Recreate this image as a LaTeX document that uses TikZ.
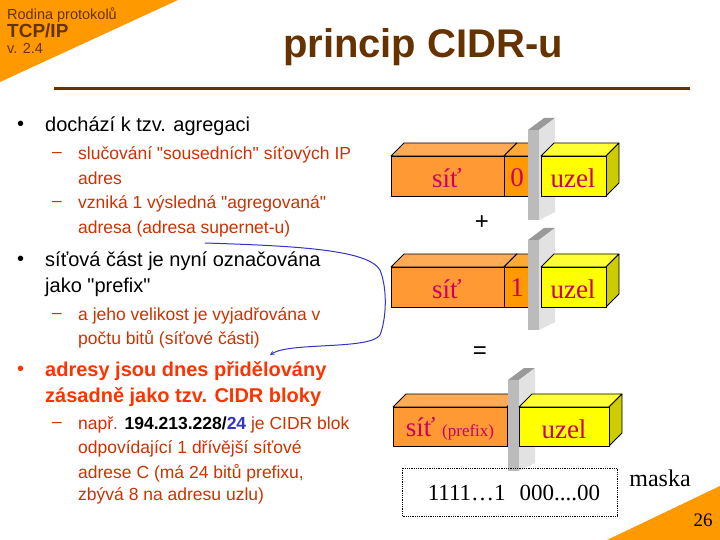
\documentclass[tikz,border=0pt]{standalone}
\usepackage{fontspec}
\setmainfont{Liberation Sans}[Ligatures=TeXOff]
\newfontfamily\serif{Liberation Serif}
\newcommand\qq{"}
\begin{document}
\begin{tikzpicture}[x=1pt,y=-1pt,
  txt/.style={anchor=west,inner sep=0pt,font=\fontsize{20}{22}\selectfont},
  subtxt/.style={anchor=west,inner sep=0pt,font=\fontsize{17.5}{19}\selectfont,text=subc},
  boxlbl/.style={inner sep=0pt,font=\serif\fontsize{27}{29}\selectfont,text=lblc},
  edge/.style={draw=black,line width=0.8pt,line join=round}]
\definecolor{brownc}{HTML}{663300}
\definecolor{orng}{HTML}{FF9900}
\definecolor{subc}{HTML}{CC3300}
\definecolor{redc}{HTML}{FF3300}
\definecolor{lblc}{HTML}{CC0066}
\definecolor{bluec}{HTML}{3333CC}
\definecolor{ofront}{HTML}{FF9933}
\definecolor{otop}{HTML}{FFAA55}
\definecolor{obit}{HTML}{FF9900}
\definecolor{obittop}{HTML}{FFAA33}
\definecolor{yfront}{HTML}{FFFF00}
\definecolor{ytop}{HTML}{FFFF33}
\definecolor{yside}{HTML}{CCCC00}
\definecolor{pfront}{HTML}{BBBBBB}
\definecolor{pside}{HTML}{E2E2E2}
\definecolor{ptop}{HTML}{999999}
\useasboundingbox (0,0) rectangle (720,540);
\fill[white] (0,0) rectangle (720,540);
% corners
\fill[orng] (0,0) -- (178,0) -- (0,82) -- cycle;
\fill[orng] (607,540) -- (720,486) -- (720,540) -- cycle;
\node[anchor=west,inner sep=0pt,text=brownc,font=\fontsize{14.5}{16}\selectfont] (h1) at (7,15) {Rodina protokolů};
\node[anchor=west,inner sep=0pt,text=brownc,font=\bfseries\fontsize{19}{20}\selectfont] (h2) at (7,31) {TCP/IP};
\node[anchor=west,inner sep=0pt,text=brownc,font=\fontsize{14.5}{16}\selectfont] (h3) at (7,48) {v. 2.4};
\node[inner sep=0pt,text=brownc,font=\bfseries\fontsize{40}{42}\selectfont] (title) at (423,47) {princip CIDR-u};
\draw[brownc,line width=3pt] (54,89) -- (690,89);
\node[inner sep=0pt,font=\serif\fontsize{19}{20}\selectfont] (pg) at (703,520) {26};
% bullets
\node[txt] (b1d) at (17,126) {•};
\node[txt] (b1) at (45,126) {dochází k tzv. agregaci};
\node[subtxt] (s1d) at (52,155) {–};
\node[subtxt] (s1a) at (78,155) {slučování \qq sousedních\qq{} síťových IP};
\node[subtxt] (s1b) at (78,178) {adres};
\node[subtxt] (s2d) at (52,204) {–};
\node[subtxt] (s2a) at (78,204) {vzniká 1 výsledná \qq agregovaná\qq};
\node[subtxt] (s2b) at (78,229) {adresa (adresa supernet-u)};
\node[txt] (b2d) at (17,261) {•};
\node[txt] (b2a) at (45,261) {síťová část je nyní označována};
\node[txt] (b2b) at (45,287) {jako \qq prefix\qq};
\node[subtxt] (s3d) at (52,316) {–};
\node[subtxt] (s3a) at (78,316) {a jeho velikost je vyjadřována v};
\node[subtxt] (s3b) at (78,339) {počtu bitů (síťové části)};
\node[txt,text=redc] (b3d) at (17,371) {•};
\node[txt,text=redc,font=\bfseries\fontsize{20}{22}\selectfont] (b3a) at (45,371) {adresy jsou dnes přidělovány};
\node[txt,text=redc,font=\bfseries\fontsize{20}{22}\selectfont] (b3b) at (45,397) {zásadně jako tzv. CIDR bloky};
\node[subtxt] (s4d) at (52,425) {–};
\node[subtxt] (s4a) at (78,425) {např. \textcolor{black}{\bfseries 194.213.228/}\textcolor{bluec}{\bfseries 24} je CIDR blok};
\node[subtxt] (s4b) at (78,449) {odpovídající 1 dřívější síťové};
\node[subtxt] (s4c) at (78,473) {adrese C (má 24 bitů prefixu,};
\node[subtxt] (s4d2) at (78,496) {zbývá 8 na adresu uzlu)};
% blue arrow
\coordinate (aS) at (205,243);
\coordinate (aE) at (270,355);
\draw[bluec,line width=1pt,-stealth] (aS) .. controls (300,246) and (368,250) .. (380,270)
  .. controls (388,290) and (386,320) .. (380,335)
  .. controls (370,350) and (290,342) .. (aE);
% helper macros
\newcommand\mycuboid[7]{%
  \filldraw[fill=#6,edge] (#1,#2) -- (#1+13,#2-13) -- (#3+13,#2-13) -- (#3,#2) -- cycle;
  \filldraw[fill=#7,edge] (#3,#2) -- (#3+13,#2-13) -- (#3+13,#4-13) -- (#3,#4) -- cycle;
  \filldraw[fill=#5,edge] (#1,#2) rectangle (#3,#4);}
\newcommand\myplate[4]{%
  \fill[ptop] (#1,#2) -- (#1+16,#2-12) -- (#3+16,#2-12) -- (#3,#2) -- cycle;
  \fill[pside] (#3,#2) -- (#3+16,#2-12) -- (#3+16,#4-8) -- (#3,#4) -- cycle;
  \fill[pfront] (#1,#2) rectangle (#3,#4);}
% row 1
\mycuboid{391}{156}{504}{196}{ofront}{otop}{ofront}
\mycuboid{504}{156}{530}{196}{obit}{obittop}{obit}
\myplate{528}{130}{539}{220}
\mycuboid{541}{156}{606}{196}{yfront}{ytop}{yside}
\node[boxlbl] (n1) at (447,178) {síť};
\node[boxlbl] (n1b) at (517,178) {0};
\node[boxlbl] (u1) at (573,178) {uzel};
\node[inner sep=0pt,font=\fontsize{24}{26}\selectfont] (plus) at (482,223) {+};
% row 2
\mycuboid{391}{267}{504}{307}{ofront}{otop}{ofront}
\mycuboid{504}{267}{530}{307}{obit}{obittop}{obit}
\myplate{528}{240}{539}{330}
\mycuboid{541}{267}{606}{307}{yfront}{ytop}{yside}
\node[boxlbl] (n2) at (447,289) {síť};
\node[boxlbl] (n2b) at (517,288) {1};
\node[boxlbl] (u2) at (573,289) {uzel};
\node[inner sep=0pt,font=\fontsize{24}{26}\selectfont] (eq) at (480,353) {=};
% row 3
\mycuboid{393}{407}{507}{446}{ofront}{otop}{ofront}
\myplate{508}{380}{519}{471}
\mycuboid{519}{407}{609}{446}{yfront}{ytop}{yside}
\node[boxlbl] (n3) at (450,429) {síť {\fontsize{17}{18}\selectfont (prefix)}};
\node[boxlbl] (u3) at (564,429) {uzel};
% mask
\draw[densely dotted,line width=0.8pt] (402,468) rectangle (617,516);
\node[inner sep=0pt,font=\serif\fontsize{23}{25}\selectfont] (mask) at (514,493) {1111…1\hspace{14pt}000....00};
\node[inner sep=0pt,font=\serif\fontsize{24}{26}\selectfont] (maska) at (660,478) {maska};
\end{tikzpicture}
\end{document}
